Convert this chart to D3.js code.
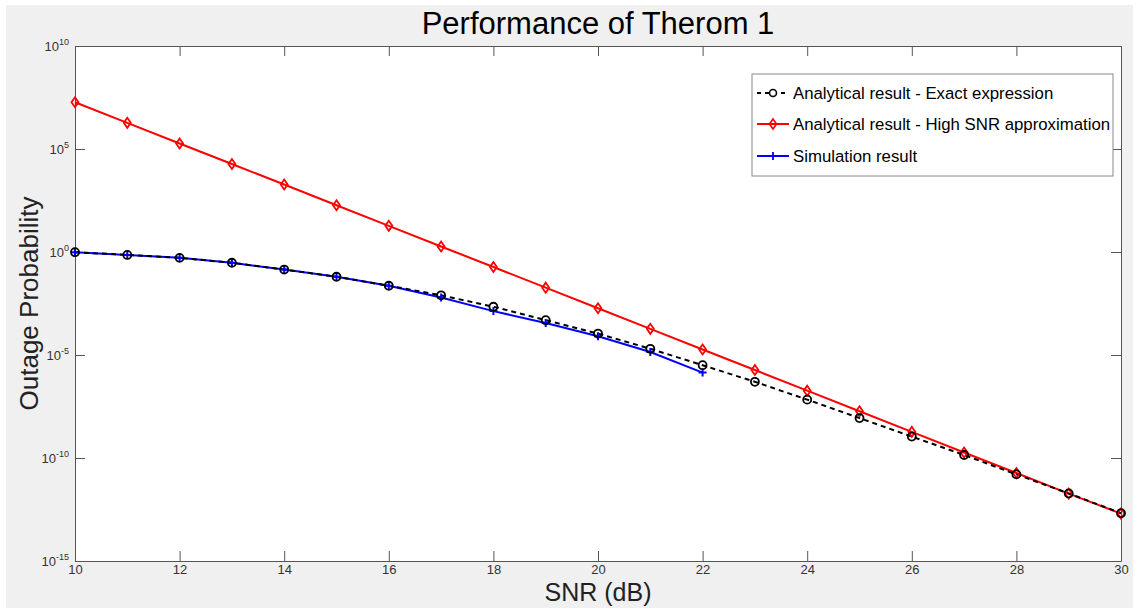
<!DOCTYPE html>
<html>
<head>
<meta charset="utf-8">
<script src="https://cdn.jsdelivr.net/npm/d3@7"></script>
<style>
  html, body { margin: 0; padding: 0; background: #fff; }
  svg { display: block; font-family: "Liberation Sans", Arial, sans-serif; }
</style>
</head>
<body>
<svg id="chart" width="1139" height="610"></svg>
<script>
// data
const snr = [10, 11, 12, 13, 14, 15, 16, 17, 18, 19, 20, 21, 22, 23, 24, 25, 26, 27, 28, 29, 30];
const exactValues = [0.98, 0.72, 0.52, 0.30, 0.14, 0.063, 0.023, 7.9e-3, 2.2e-3, 4.9e-4, 1.1e-4,
  2.0e-5, 3.2e-6, 5.0e-7, 6.8e-8, 8.7e-9, 1.1e-9, 1.4e-10, 1.6e-11, 1.9e-12, 2.1e-13];
const highSnrValues = [1.86e7, 1.86e6, 1.86e5, 1.86e4, 1.9e3, 186, 18.6, 1.86, 0.186, 1.86e-2, 1.86e-3,
  1.86e-4, 1.86e-5, 1.86e-6, 1.86e-7, 1.86e-8, 1.86e-9, 1.86e-10, 1.86e-11, 1.86e-12, 2.0e-13];
const simSnr = [10, 11, 12, 13, 14, 15, 16, 17, 18, 19, 20, 21, 22];
const simValues = [0.98, 0.72, 0.52, 0.30, 0.14, 0.063, 0.023, 6.2e-3, 1.35e-3, 3.6e-4, 8.1e-5, 1.4e-5, 1.4e-6];
const xTicks = [10, 12, 14, 16, 18, 20, 22, 24, 26, 28, 30];
const yTickExps = [10, 5, 0, -5, -10, -15];
const legendLabels = [
  "Analytical result - Exact expression",
  "Analytical result - High SNR approximation",
  "Simulation result"
];

const svg = d3.select("#chart");
const plotL = 75, plotR = 1121, plotT = 46, plotB = 561;

// figure background
svg.append("rect")
  .attr("x", 6).attr("y", 5)
  .attr("width", 1127).attr("height", 603)
  .attr("fill", "#f0f0f0");

const x = d3.scaleLinear().domain([10, 30]).range([plotL, plotR]);
const y = d3.scaleLog().domain([1e-15, 1e10]).range([plotB, plotT]);

svg.append("rect")
  .attr("x", plotL).attr("y", plotT)
  .attr("width", plotR - plotL).attr("height", plotB - plotT)
  .attr("fill", "#fff");

// axes with inward ticks, MATLAB box style
const tickCol = "#555";
const axisG = svg.append("g").attr("class", "axes");

axisG.append("g")
  .attr("transform", `translate(0,${plotB})`)
  .call(d3.axisBottom(x).tickValues(xTicks).tickSizeInner(-10).tickSizeOuter(0).tickPadding(4))
  .call(g => g.selectAll("text").attr("font-size", 13).attr("fill", "#333"));

axisG.append("g")
  .attr("transform", `translate(0,${plotT})`)
  .call(d3.axisTop(x).tickValues(xTicks).tickSizeInner(-10).tickSizeOuter(0).tickFormat(""));

axisG.append("g")
  .attr("transform", `translate(${plotL},0)`)
  .call(d3.axisLeft(y).tickValues(yTickExps.map(e => Math.pow(10, e))).tickSizeInner(-10).tickSizeOuter(0).tickFormat(""));

axisG.append("g")
  .attr("transform", `translate(${plotR},0)`)
  .call(d3.axisRight(y).tickValues(yTickExps.map(e => Math.pow(10, e))).tickSizeInner(-10).tickSizeOuter(0).tickFormat(""));

axisG.selectAll("path.domain").attr("stroke", tickCol).attr("stroke-width", 1);
axisG.selectAll(".tick line").attr("stroke", tickCol);
axisG.selectAll("text").attr("font-family", "Liberation Sans, Arial, sans-serif");

// y tick labels as 10^exp with superscript
const yLab = svg.append("g");
yTickExps.forEach(e => {
  const t = yLab.append("text")
    .attr("x", plotL - 6)
    .attr("y", y(Math.pow(10, e)) + 5)
    .attr("text-anchor", "end")
    .attr("font-size", 13)
    .attr("fill", "#333");
  t.append("tspan").text("10");
  t.append("tspan").attr("dy", -6).attr("font-size", 9).text(e);
});

// series
const clipId = "plotclip";
svg.append("clipPath").attr("id", clipId)
  .append("rect").attr("x", plotL - 6).attr("y", plotT).attr("width", plotR - plotL + 12).attr("height", plotB - plotT);
const plot = svg.append("g").attr("clip-path", `url(#${clipId})`);

const line = d3.line().x(d => x(d[0])).y(d => y(d[1]));
const exactPts = snr.map((s, i) => [s, exactValues[i]]);
const redPts = snr.map((s, i) => [s, highSnrValues[i]]);
const simPts = simSnr.map((s, i) => [s, simValues[i]]);

// red high SNR approximation
plot.append("path").datum(redPts)
  .attr("d", line).attr("fill", "none").attr("stroke", "#ff0000").attr("stroke-width", 2);

// blue simulation
plot.append("path").datum(simPts)
  .attr("d", line).attr("fill", "none").attr("stroke", "#0000ff").attr("stroke-width", 2);

// black dashed exact
plot.append("path").datum(exactPts)
  .attr("d", line).attr("fill", "none").attr("stroke", "#000").attr("stroke-width", 2)
  .attr("stroke-dasharray", "5,4");

const diamond = (cx, cy) => `M${cx},${cy - 5}L${cx + 3.5},${cy}L${cx},${cy + 5}L${cx - 3.5},${cy}Z`;
const plus = (cx, cy) => `M${cx - 4},${cy}H${cx + 4}M${cx},${cy - 4}V${cy + 4}`;

plot.selectAll("path.redm").data(redPts).enter().append("path")
  .attr("class", "redm")
  .attr("d", d => diamond(x(d[0]), y(d[1])))
  .attr("fill", "none").attr("stroke", "#ff0000").attr("stroke-width", 1.8);

plot.selectAll("path.bluem").data(simPts).enter().append("path")
  .attr("class", "bluem")
  .attr("d", d => plus(x(d[0]), y(d[1])))
  .attr("fill", "none").attr("stroke", "#0000ff").attr("stroke-width", 2);

plot.selectAll("circle.exm").data(exactPts).enter().append("circle")
  .attr("class", "exm")
  .attr("cx", d => x(d[0])).attr("cy", d => y(d[1])).attr("r", 4)
  .attr("fill", "none").attr("stroke", "#000").attr("stroke-width", 1.8);

// legend
const lg = svg.append("g").attr("transform", "translate(752,74)");
lg.append("rect").attr("width", 361).attr("height", 102)
  .attr("fill", "#fff").attr("stroke", "#888").attr("stroke-width", 1);
const rowY = [19, 50, 82];
// exact
lg.append("line").attr("x1", 5).attr("x2", 37).attr("y1", rowY[0]).attr("y2", rowY[0])
  .attr("stroke", "#000").attr("stroke-width", 2).attr("stroke-dasharray", "4,4");
lg.append("circle").attr("cx", 21).attr("cy", rowY[0]).attr("r", 3.5)
  .attr("fill", "#fff").attr("stroke", "#000").attr("stroke-width", 1.6);
// red
lg.append("line").attr("x1", 5).attr("x2", 37).attr("y1", rowY[1]).attr("y2", rowY[1])
  .attr("stroke", "#ff0000").attr("stroke-width", 2);
lg.append("path").attr("d", diamond(21, rowY[1]))
  .attr("fill", "none").attr("stroke", "#ff0000").attr("stroke-width", 1.6);
// blue
lg.append("line").attr("x1", 5).attr("x2", 37).attr("y1", rowY[2]).attr("y2", rowY[2])
  .attr("stroke", "#0000ff").attr("stroke-width", 2);
lg.append("path").attr("d", plus(21, rowY[2]))
  .attr("stroke", "#0000ff").attr("stroke-width", 1.8);

legendLabels.forEach((t, i) => {
  lg.append("text").attr("x", 41).attr("y", rowY[i] + 6)
    .attr("font-size", 16.8).attr("fill", "#000").text(t);
});

// title and axis labels
svg.append("text")
  .attr("x", (plotL + plotR) / 2).attr("y", 34)
  .attr("text-anchor", "middle").attr("font-size", 31).attr("fill", "#000")
  .text("Performance of Therom 1");

svg.append("text")
  .attr("x", (plotL + plotR) / 2).attr("y", 601)
  .attr("text-anchor", "middle").attr("font-size", 25).attr("fill", "#222")
  .text("SNR (dB)");

svg.append("text")
  .attr("transform", `translate(38,${(plotT + plotB) / 2}) rotate(-90)`)
  .attr("text-anchor", "middle").attr("font-size", 26).attr("fill", "#222")
  .text("Outage Probability");
</script>
</body>
</html>
